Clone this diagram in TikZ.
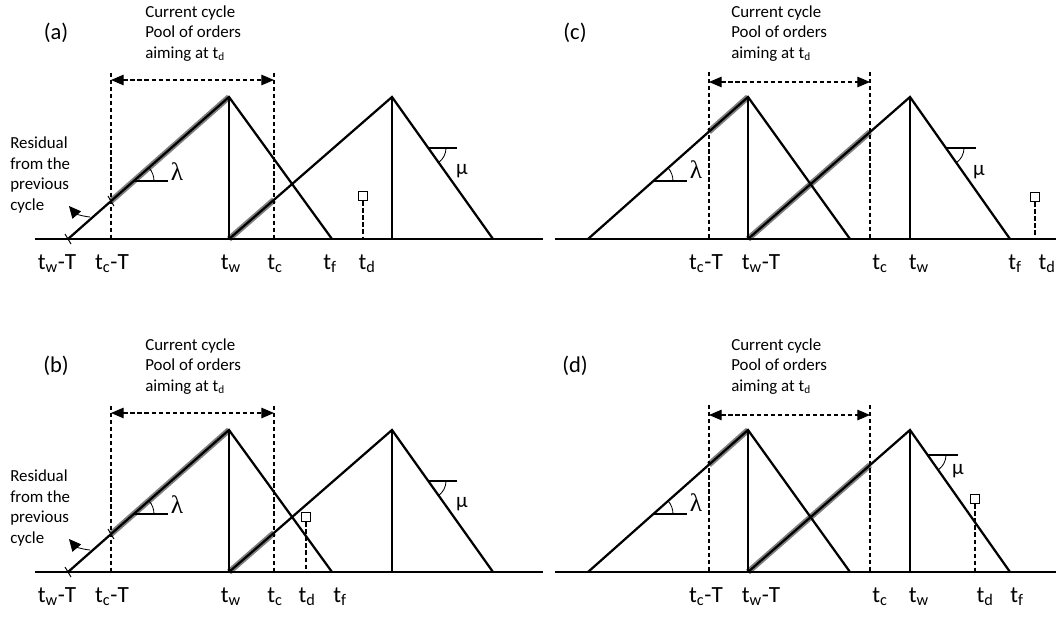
\documentclass[tikz,border=0pt]{standalone}
\usepackage{fontspec}
\setmainfont{Carlito}
\newfontfamily\greekserif{Liberation Serif}
\usetikzlibrary{arrows.meta,calc}

\tikzset{
  ramp/.style={line width=1.6pt, line join=miter},
  ground/.style={line width=1.7pt},
  stem/.style={line width=0.85pt},
  guide/.style={line width=0.75pt, dash pattern=on 3pt off 2pt},
  pool/.style={line width=4.2pt, black!50},
  poolarrow/.style={guide, {Triangle[length=9pt,width=7.5pt]}-{Triangle[length=9pt,width=7.5pt]}},
  tlabel/.style={font=\fontsize{16.5}{18}\selectfont, anchor=base, inner sep=0pt},
  note/.style={font=\fontsize{12}{14.5}\selectfont, align=left, anchor=west, inner sep=0pt},
  panelname/.style={font=\fontsize{16}{18}\selectfont, inner sep=0pt},
  greek/.style={font=\fontsize{15}{18}\selectfont, inner sep=0pt},
  lamb/.style={font=\fontsize{18}{20}\selectfont\greekserif, inner sep=0pt},
  due/.style={draw, line width=1.1pt, minimum size=6.5pt, inner sep=0pt, fill=white}
}

\begin{document}
\begin{tikzpicture}[x=0.025cm,y=-0.025cm]
\useasboundingbox (0,0) rectangle (1056,617);

\def\ax{239};
\def\lb{269};

% (a) and (b): t_d after t_f or between t_c and t_f
\foreach \oy/\nm/\xd/\yd/\xdl/\xfl in {0/a/363/196/367/330, 333/b/306/184/307/340}{
\begin{scope}[shift={(0,\oy)}]
 \coordinate (s1) at (68,\ax);
 \coordinate (p1) at (229,97);
 \coordinate (f1) at (332,\ax);
 \coordinate (s2) at (229,\ax);
 \coordinate (p2) at (392,97);
 \coordinate (f2) at (493,\ax);
 \coordinate (b2) at (392,\ax);
 \coordinate (g1) at ($(s1)!0.267!(p1)$);
 \coordinate (g2) at ($(s2)!0.276!(p2)$);

 \draw[pool] (g1) -- (p1);
 \draw[pool] (s2) -- (g2);
 \draw[ground] (35,\ax) -- (543,\ax);
 \draw[ramp] (s1) -- (p1) -- (f1);
 \draw[ramp] (s2) -- (p2) -- (f2);
 \draw[stem] (p1) -- (s2);
 \draw[stem] (p2) -- (b2);

 % ticks on the residual part
 \draw[line width=0.7pt] ($(s1)+(-3,-5)$) -- ($(s1)+(3,5)$);
 \draw[line width=0.7pt] ($(g1)+(-3,-5)$) -- ($(g1)+(3,5)$);

 % window of the current cycle
 \coordinate (cT-\nm) at (111,73);
 \coordinate (cB-\nm) at (111,\ax);
 \coordinate (dT-\nm) at (274,73);
 \coordinate (dB-\nm) at (274,\ax);
 \draw[guide] (cT-\nm) -- (cB-\nm);
 \draw[guide] (dT-\nm) -- (dB-\nm);
 \draw[poolarrow] ($(cT-\nm)+(0,7)$) -- ($(dT-\nm)+(0,7)$);

 % angles
 \draw[stem] (134,181) -- (168,181);
 \draw[line width=0.6pt] (154,181) arc[start angle=0, end angle=-41.4, radius=20];
 \node[lamb] (lam-\nm) at (177,172) {λ};
 \draw[stem] (428,148) -- (457,148);
 \draw[line width=0.6pt] (446,148) arc[start angle=0, end angle=54.6, radius=18];
 \node[greek] (mu-\nm) at (462,171) {μ};

 % due date
 \node[due] (sq-\nm) at (\xd,\yd) {};
 \coordinate (sqB-\nm) at (\xd,\ax);
 \draw[guide] (sq-\nm.south) -- (sqB-\nm);

 % residual
 \node[note] (res-\nm) at (10,175) {Residual\\from the\\previous\\cycle};
 \coordinate (rA-\nm) at (90,217);
 \coordinate (rB-\nm) at (69,206);
 \draw[line width=0.6pt, -{Triangle[length=8.5pt,width=8pt]}] (rA-\nm) .. controls (80,216) and (75,213) .. (rB-\nm);

 \node[panelname] (tag-\nm) at (56,33) {(\nm)};
 \node[note] (cur-\nm) at (145,33.5) {Current cycle\\Pool of orders\\aiming at t\textsubscript{d}};

 \node[tlabel] (lwT-\nm) at (57,\lb) {t\textsubscript{w}-T};
 \node[tlabel] (lcT-\nm) at (112,\lb) {t\textsubscript{c}-T};
 \node[tlabel] (lw-\nm) at (231,\lb) {t\textsubscript{w}};
 \node[tlabel] (lc-\nm) at (275,\lb) {t\textsubscript{c}};
 \node[tlabel] (lf-\nm) at (\xfl,\lb) {t\textsubscript{f}};
 \node[tlabel] (ld-\nm) at (\xdl,\lb) {t\textsubscript{d}};
\end{scope}
}

% (c) and (d): t_w-T after t_c-T
\foreach \oy/\nm/\xd/\yd/\ym/\xm/\mlx/\mly/\xdl/\xfl in {0/c/1035/197/148/946/979/172/1047/1015, 333/d/975/166/122/928/958/138/985/1017}{
\begin{scope}[shift={(0,\oy)}]
 \coordinate (s1) at (588,\ax);
 \coordinate (p1) at (748,97);
 \coordinate (f1) at (850,\ax);
 \coordinate (s2) at (748,\ax);
 \coordinate (p2) at (910,97);
 \coordinate (f2) at (1010,\ax);
 \coordinate (b2) at (910,\ax);
 \coordinate (g1) at ($(s1)!0.756!(p1)$);
 \coordinate (g2) at ($(s2)!0.753!(p2)$);

 \draw[pool] (g1) -- (p1);
 \draw[pool] (s2) -- (g2);
 \draw[ground] (555,\ax) -- (1056,\ax);
 \draw[ramp] (s1) -- (p1) -- (f1);
 \draw[ramp] (s2) -- (p2) -- (f2);
 \draw[stem] (p1) -- (s2);
 \draw[stem] (p2) -- (b2);

 \coordinate (cT-\nm) at (709,72);
 \coordinate (cB-\nm) at (709,\ax);
 \coordinate (dT-\nm) at (870,72);
 \coordinate (dB-\nm) at (870,\ax);
 \draw[guide] (cT-\nm) -- (cB-\nm);
 \draw[guide] (dT-\nm) -- (dB-\nm);
 \draw[poolarrow] ($(cT-\nm)+(0,10)$) -- ($(dT-\nm)+(0,10)$);

 \draw[stem] (653,181) -- (687,181);
 \draw[line width=0.6pt] (673,181) arc[start angle=0, end angle=-41.6, radius=20];
 \node[lamb] (lam-\nm) at (696,170) {λ};
 \draw[stem] (\xm,\ym) -- ($(\xm,\ym)+(30,0)$);
 \draw[line width=0.6pt] ($(\xm,\ym)+(18,0)$) arc[start angle=0, end angle=54.8, radius=18];
 \node[greek] (mu-\nm) at (\mlx,\mly) {μ};

 \node[due] (sq-\nm) at (\xd,\yd) {};
 \coordinate (sqB-\nm) at (\xd,\ax);
 \draw[guide] (sq-\nm.south) -- (sqB-\nm);

 \node[panelname] (tag-\nm) at (575,33) {(\nm)};
 \node[note] (cur-\nm) at (731,33.5) {Current cycle\\Pool of orders\\aiming at t\textsubscript{d}};

 \node[tlabel] (lcT-\nm) at (706,\lb) {t\textsubscript{c}-T};
 \node[tlabel] (lwT-\nm) at (761,\lb) {t\textsubscript{w}-T};
 \node[tlabel] (lc-\nm) at (880,\lb) {t\textsubscript{c}};
 \node[tlabel] (lw-\nm) at (919,\lb) {t\textsubscript{w}};
 \node[tlabel] (lf-\nm) at (\xfl,\lb) {t\textsubscript{f}};
 \node[tlabel] (ld-\nm) at (\xdl,\lb) {t\textsubscript{d}};
\end{scope}
}

\end{tikzpicture}
\end{document}
